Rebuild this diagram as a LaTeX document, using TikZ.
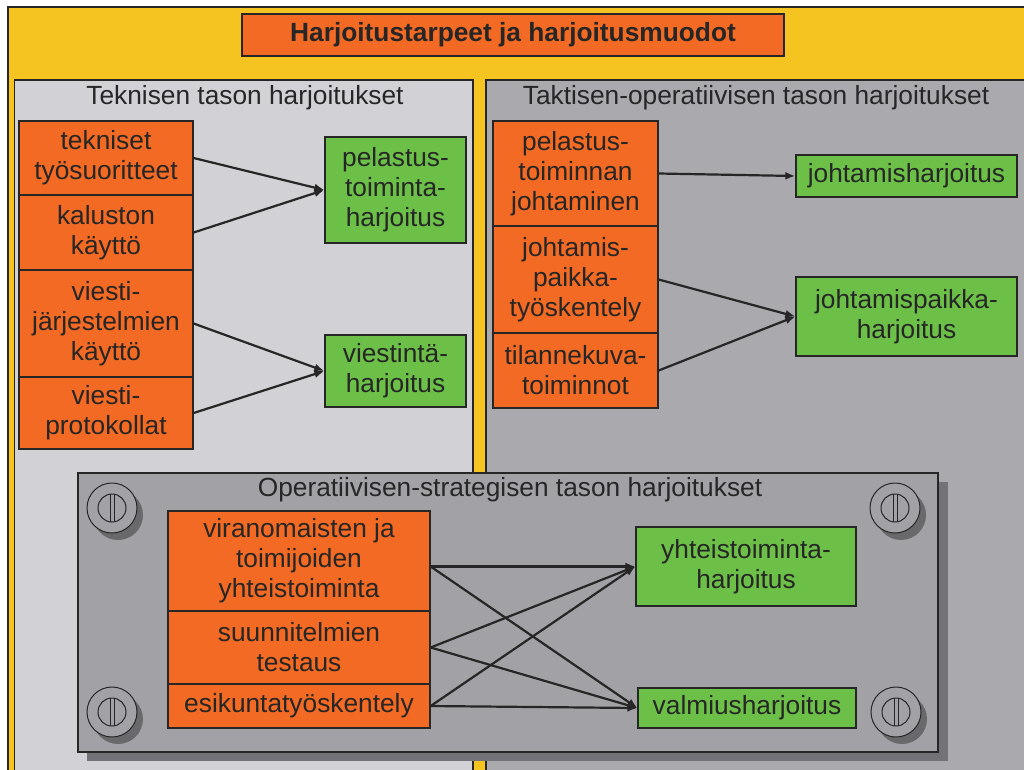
\documentclass[tikz,border=0pt]{standalone}
\usepackage{fontspec}
\setmainfont{Liberation Sans}
\usetikzlibrary{arrows.meta}

\definecolor{keltainen}{RGB}{245,196,32}
\definecolor{oranssi}{RGB}{242,106,36}
\definecolor{vihrea}{RGB}{108,192,72}
\definecolor{vaalea}{RGB}{210,210,214}
\definecolor{harmaa}{RGB}{169,169,174}
\definecolor{alaharmaa}{RGB}{162,162,166}
\definecolor{varjo}{RGB}{115,115,119}
\definecolor{tumma}{RGB}{38,38,38}

\begin{document}
\begin{tikzpicture}[x=1pt,y=-1pt,
	txt/.style={font=\fontsize{26.3}{30}\selectfont,text=tumma,align=center,inner sep=0pt},
	obox/.style={txt,draw=tumma,line width=1.3pt,fill=oranssi},
	gbox/.style={txt,draw=tumma,line width=1.3pt,fill=vihrea},
	nuoli/.style={-{Latex[length=10pt,width=8pt]},line width=2.2pt,draw=tumma}]
				  \useasboundingbox (0,0) rectangle (1024,769);
				  \fill[white] (0,0) rectangle (1024,769);
				  \clip (0,0) rectangle (1024,769);
				  %TAUSTA JA PANEELIT
				  \draw[fill=keltainen,draw=tumma,line width=1.2pt] (8,7) rectangle (1040,790);
				  \draw[fill=vaalea,draw=tumma,line width=1.3pt] (14.5,80) rectangle (473,800);
				  \draw[fill=harmaa,draw=tumma,line width=1.3pt] (486,80) rectangle (1040,800);
				  \node[txt,font=\fontsize{26.3}{30}\selectfont\bfseries,draw=tumma,line width=1.3pt,fill=oranssi,minimum width=542,minimum height=42] (otsikko) at (513,35) {Harjoitustarpeet ja harjoitusmuodot};
				  \node[txt] (tekt) at (245,98) {Teknisen tason harjoitukset};
				  \node[txt] (takt) at (756,98) {Taktisen-operatiivisen tason harjoitukset};

				  %TEKNINEN TASO
				  \node[obox,minimum width=174,minimum height=74] (tek) at (106,158) {tekniset\\työsuoritteet};
				  \node[obox,minimum width=174,minimum height=75] (kal) at (106,232.5) {kaluston\\käyttö};
				  \node[obox,minimum width=174,minimum height=107] (vjk) at (106,323.5) {viesti-\\järjestelmien\\käyttö};
				  \node[obox,minimum width=174,minimum height=72] (vpr) at (106,413) {viesti-\\protokollat};
				  \node[gbox,minimum width=141,minimum height=106] (pel) at (395.5,190) {pelastus-\\toiminta-\\harjoitus};
				  \node[gbox,minimum width=141,minimum height=72] (vie) at (395.5,371) {viestintä-\\harjoitus};
				  \draw[nuoli] (tek.east) -- (pel.west);
				  \draw[nuoli] (kal.east) -- (pel.west);
				  \draw[nuoli] (vjk.east) -- (vie.west);
				  \draw[nuoli] (vpr.east) -- (vie.west);

				  %TAKTINEN-OPERATIIVINEN TASO
				  \node[obox,minimum width=165,minimum height=105] (ptj) at (575.5,173.5) {pelastus-\\toiminnan\\johtaminen};
				  \node[obox,minimum width=165,minimum height=107] (jpt) at (575.5,279.5) {johtamis-\\paikka-\\työskentely};
				  \node[obox,minimum width=165,minimum height=75] (tkt) at (575.5,370.5) {tilannekuva-\\toiminnot};
				  \node[gbox,minimum width=221,minimum height=42] (jhk) at (906.5,176) {johtamisharjoitus};
				  \node[gbox,minimum width=221,minimum height=79] (jph) at (906.5,316.5) {johtamispaikka-\\harjoitus};
				  \draw[nuoli] (ptj.east) -- (jhk.west);
				  \draw[nuoli] (jpt.east) -- (jph.west);
				  \draw[nuoli] (tkt.east) -- (jph.west);

				  %OPERATIIVINEN-STRATEGINEN TASO
				  \fill[varjo] (87,482) rectangle (948,761);
				  \draw[fill=alaharmaa,draw=tumma,line width=1.3pt] (78,473) rectangle (938,752);
				  \node[txt] (opst) at (510,490) {Operatiivisen-strategisen tason harjoitukset};
				  %RUUVIT
				  \foreach \x/\y in {112/508,895/508,112/712,896/712}{
				    \fill[black,opacity=0.35] (\x+6,\y+7) circle (25);
				    \draw[fill=alaharmaa,draw=tumma,line width=1pt] (\x,\y) circle (25);
				    \draw[draw=tumma,line width=1pt] (\x,\y) circle (14);
				    \draw[draw=tumma,line width=1pt] (\x-2,\y-13.8) -- (\x-2,\y+13.8);
				    \draw[draw=tumma,line width=1pt] (\x+2,\y-13.8) -- (\x+2,\y+13.8);
				  }
				  \node[obox,minimum width=262,minimum height=100] (vty) at (299,561) {viranomaisten ja\\toimijoiden\\yhteistoiminta};
				  \node[obox,minimum width=262,minimum height=73] (sut) at (299,647.5) {suunnitelmien\\testaus};
				  \node[obox,minimum width=262,minimum height=44] (esk) at (299,706) {esikuntatyöskentely};
				  \node[gbox,minimum width=220,minimum height=79] (yth) at (746,566.5) {yhteistoiminta-\\harjoitus};
				  \node[gbox,minimum width=218,minimum height=40] (val) at (747,708) {valmiusharjoitus};
				  \coordinate (vtyA) at (vty.east |- yth.west);
				  \foreach \a in {vtyA,sut.east,esk.east}{
				    \draw[nuoli] (\a) -- (yth.west);
				    \draw[nuoli] (\a) -- (val.west);
				  }
\end{tikzpicture}
\end{document}
